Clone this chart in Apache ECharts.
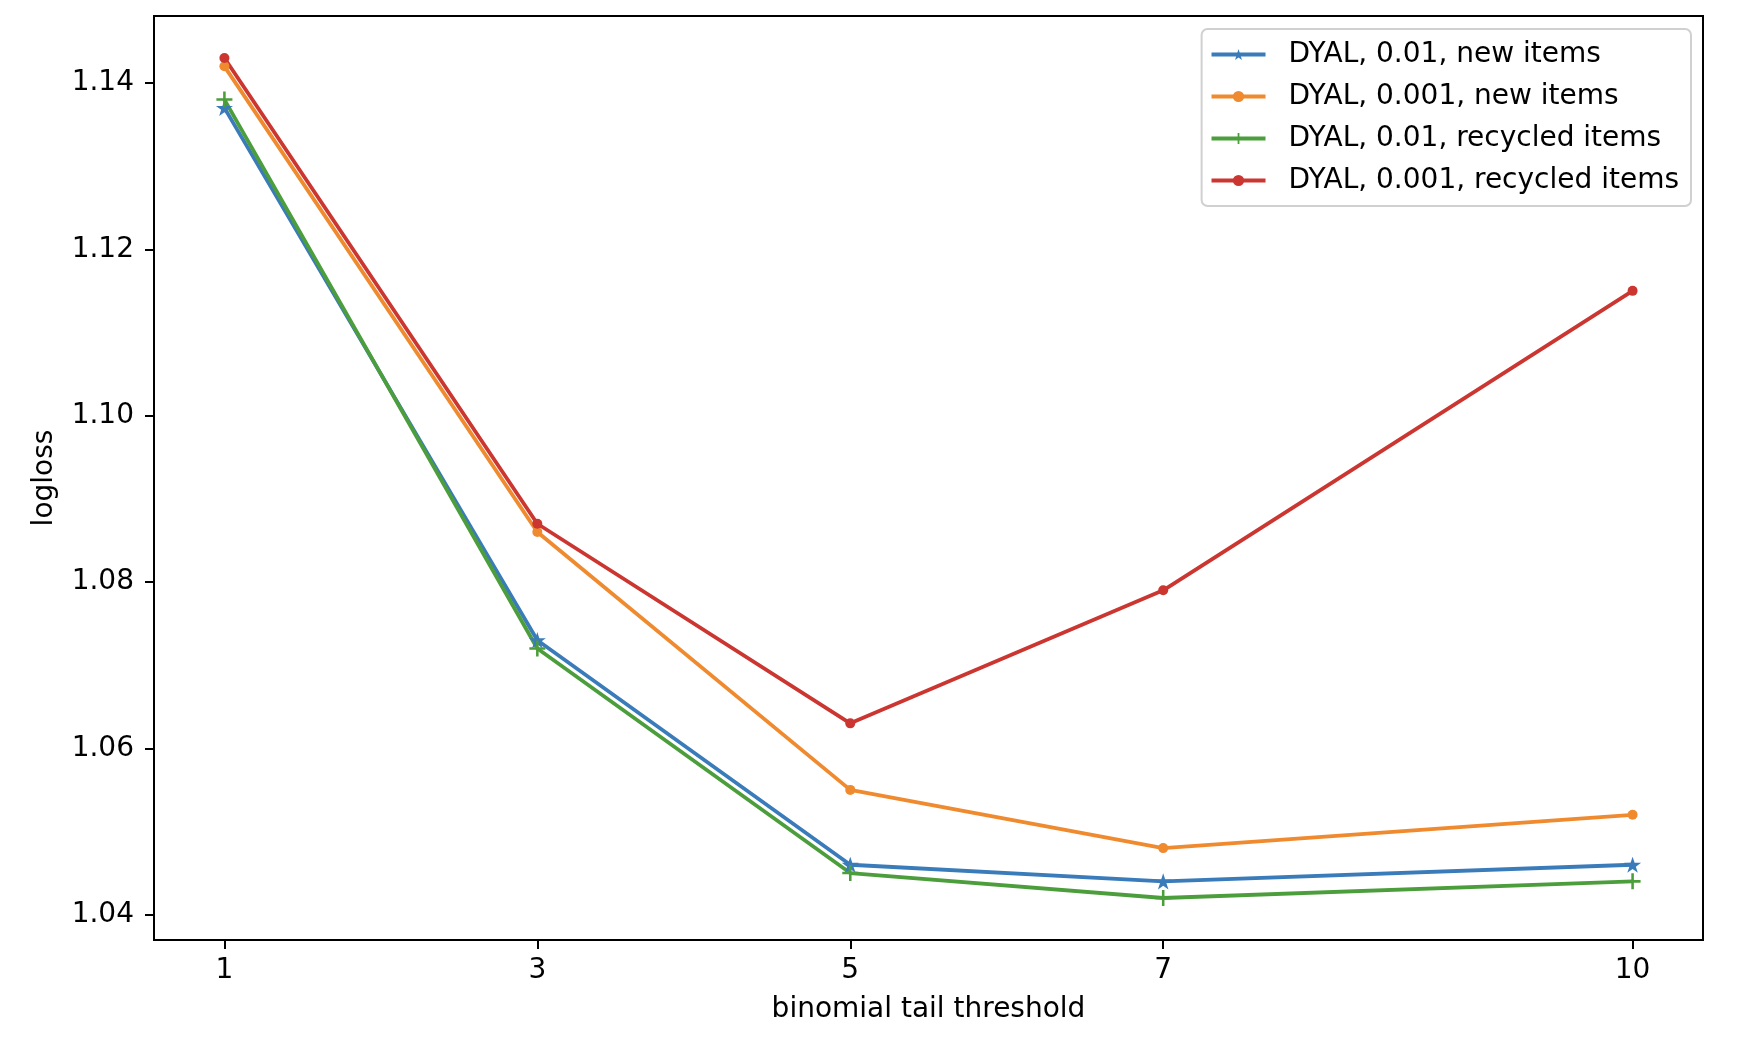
<!DOCTYPE html>
<html>
<head>
<meta charset="utf-8">
<script src="https://cdn.jsdelivr.net/npm/echarts@6/dist/echarts.min.js"></script>
<style>
html,body{margin:0;padding:0;background:#fff;}
#chart{width:1738px;height:1040px;}
</style>
</head>
<body>
<div id="chart"></div>
<script>
// ---- data ----
const xValues = [1, 3, 5, 7, 10];
const xTicks = [1, 3, 5, 7, 10];
const yTicks = [1.04, 1.06, 1.08, 1.10, 1.12, 1.14];
const seriesNames = [
  'DYAL, 0.01, new items',
  'DYAL, 0.001, new items',
  'DYAL, 0.01, recycled items',
  'DYAL, 0.001, recycled items'
];
const dyal001New = [1.137, 1.073, 1.046, 1.044, 1.046];
const dyal0001New = [1.142, 1.086, 1.055, 1.048, 1.052];
const dyal001Recycled = [1.138, 1.072, 1.045, 1.042, 1.044];
const dyal0001Recycled = [1.143, 1.087, 1.063, 1.079, 1.115];

// ---- styling ----
const FONT = 'DejaVu Sans';
const FS = 28;
const colors = ['#3a7bba', '#ef8a2f', '#4c9e3c', '#cb3631'];

function starPath() {
  const pts = [];
  for (let i = 0; i < 10; i++) {
    const r = i % 2 === 0 ? 1 : 0.381966;
    const a = -Math.PI / 2 + i * Math.PI / 5;
    pts.push((r * Math.cos(a)).toFixed(4) + ',' + (r * Math.sin(a)).toFixed(4));
  }
  return 'path://M' + pts.join(' L') + ' Z';
}
const plusPath = 'path://M-1,-0.16 L1,-0.16 L1,0.16 L-1,0.16 Z M-0.16,-1 L0.16,-1 L0.16,1 L-0.16,1 Z';
const symbols = [starPath(), 'circle', plusPath, 'circle'];
const symbolSizes = [17, 10, 16, 10];

const allData = [dyal001New, dyal0001New, dyal001Recycled, dyal0001Recycled];

const series = allData.map((vals, i) => ({
  name: seriesNames[i],
  type: 'line',
  data: xValues.map((x, j) => [x, vals[j]]),
  symbol: symbols[i],
  symbolSize: symbolSizes[i],
  symbolKeepAspect: true,
  showAllSymbol: true,
  color: colors[i],
  lineStyle: { width: 3.8, color: colors[i] },
  itemStyle: { color: colors[i], borderWidth: 0 },
  emphasis: { disabled: true },
  animation: false
}));

const chart = echarts.init(document.getElementById('chart'), null, { renderer: 'canvas' });
chart.setOption({
  backgroundColor: '#fff',
  animation: false,
  grid: {
    left: 154, right: 35, top: 16, bottom: 100,
    show: true, borderColor: '#000', borderWidth: 2, backgroundColor: 'transparent',
    containLabel: false
  },
  legend: {
    orient: 'vertical',
    right: 47,
    top: 29,
    data: seriesNames,
    itemWidth: 54,
    itemHeight: 14,
    itemGap: 11,
    padding: [10, 12, 10, 8],
    backgroundColor: 'rgba(255,255,255,0.8)',
    borderColor: '#d0d0d0',
    borderWidth: 2,
    borderRadius: 6,
    lineStyle: { width: 3.8 },
    textStyle: { fontFamily: FONT, fontSize: FS, color: '#000', lineHeight: 31, padding: [0, 0, 0, 18] },
    selectedMode: false
  },
  xAxis: {
    type: 'value',
    min: 0.55,
    max: 10.45,
    name: 'binomial tail threshold',
    nameLocation: 'middle',
    nameGap: 56,
    nameTextStyle: { fontFamily: FONT, fontSize: FS, color: '#000' },
    axisLine: { show: true, onZero: false, lineStyle: { color: '#000', width: 2 } },
    axisTick: { show: true, inside: false, length: 9, lineStyle: { color: '#000', width: 2 }, customValues: xTicks },
    axisLabel: { show: true, fontFamily: FONT, fontSize: FS, color: '#000', margin: 17, customValues: xTicks,
      formatter: v => String(v) },
    splitLine: { show: false }
  },
  yAxis: {
    type: 'value',
    min: 1.03695,
    max: 1.14805,
    name: 'logloss',
    nameLocation: 'middle',
    nameGap: 95,
    nameRotate: 90,
    nameTextStyle: { fontFamily: FONT, fontSize: FS, color: '#000' },
    axisLine: { show: true, onZero: false, lineStyle: { color: '#000', width: 2 } },
    axisTick: { show: true, inside: false, length: 9, lineStyle: { color: '#000', width: 2 }, customValues: yTicks },
    axisLabel: { show: true, fontFamily: FONT, fontSize: FS, color: '#000', margin: 20, customValues: yTicks,
      formatter: v => Number(v).toFixed(2) },
    splitLine: { show: false }
  },
  series: series
});
</script>
</body>
</html>
